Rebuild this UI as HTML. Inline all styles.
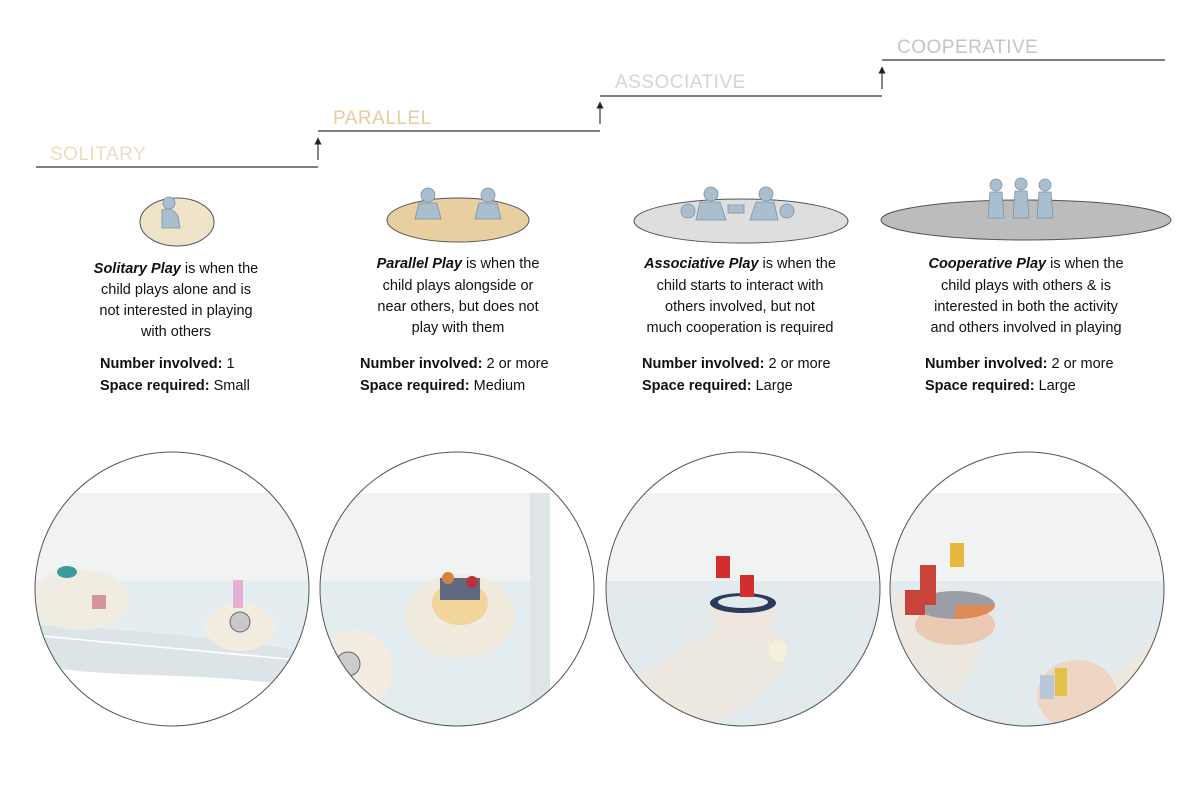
<!DOCTYPE html>
<html><head><meta charset="utf-8"><style>
body{margin:0;background:#fff;width:1200px;height:800px;overflow:hidden;font-family:"Liberation Sans",sans-serif}
svg{position:absolute;left:0;top:0}
</style></head><body>
<svg width="1200" height="800" viewBox="0 0 1200 800">
<defs>
<clipPath id="c1"><circle cx="172" cy="589" r="137"/></clipPath>
<clipPath id="c2"><circle cx="457" cy="589" r="137"/></clipPath>
<clipPath id="c3"><circle cx="743" cy="589" r="137"/></clipPath>
<clipPath id="c4"><circle cx="1027" cy="589" r="137"/></clipPath>
<marker id="ar" markerWidth="6" markerHeight="6" refX="3" refY="3" orient="auto"><path d="M0,0L6,3L0,6z" fill="#222"/></marker>
</defs>
<g stroke="#333" stroke-width="1.2" fill="none">
<line x1="36" y1="167" x2="318" y2="167"/><line x1="318" y1="160" x2="318" y2="141" marker-end="url(#ar)"/>
<line x1="318" y1="131" x2="600" y2="131"/><line x1="600" y1="124" x2="600" y2="105" marker-end="url(#ar)"/>
<line x1="600" y1="96" x2="882" y2="96"/><line x1="882" y1="89" x2="882" y2="70" marker-end="url(#ar)"/>
<line x1="882" y1="60" x2="1165" y2="60"/>
</g>
<g font-size="19" letter-spacing="0.5">
<text x="50" y="160" fill="#eedcbf">SOLITARY</text>
<text x="333" y="124" fill="#e6cc9e">PARALLEL</text>
<text x="615" y="88" fill="#d4d4d4">ASSOCIATIVE</text>
<text x="897" y="53" fill="#c4c4c4">COOPERATIVE</text>
</g>
<g stroke="#555" stroke-width="1">
<ellipse cx="177" cy="222" rx="37" ry="24" fill="#efe3ca"/>
<ellipse cx="458" cy="220" rx="71" ry="22" fill="#e8cf9f"/>
<ellipse cx="741" cy="221" rx="107" ry="22" fill="#dedede"/>
<ellipse cx="1026" cy="220" rx="145" ry="20" fill="#bcbcbc"/>
</g>
<g fill="#a9bfcf" stroke="#7d93a3" stroke-width="0.8">
<circle cx="169" cy="203" r="6"/><path d="M162,210 q10,-4 16,6 l2,12 h-18z"/>
<circle cx="428" cy="195" r="7"/><path d="M419,203 h18 l4,16 h-26z"/><circle cx="488" cy="195" r="7"/><path d="M479,203 h18 l4,16 h-26z"/>
<circle cx="711" cy="194" r="7"/><path d="M700,202 h20 l6,18 h-30z"/><circle cx="688" cy="211" r="7"/><circle cx="766" cy="194" r="7"/><path d="M756,202 h18 l4,18 h-28z"/><circle cx="787" cy="211" r="7"/><rect x="728" y="205" width="16" height="8"/>
<circle cx="996" cy="185" r="6"/><path d="M990,192 h12 l2,26 h-16z"/><circle cx="1021" cy="184" r="6"/><path d="M1015,191 h12 l2,27 h-16z"/><circle cx="1045" cy="185" r="6"/><path d="M1039,192 h12 l2,26 h-16z"/>
</g>
<g font-size="14.5" fill="#111" text-anchor="middle">
<g><text x="176" y="273"><tspan font-style="italic" font-weight="bold">Solitary Play</tspan> is when the</text><text x="176" y="294">child plays alone and is</text><text x="176" y="315">not interested in playing</text><text x="176" y="336">with others</text></g>
<g><text x="458" y="268"><tspan font-style="italic" font-weight="bold">Parallel Play</tspan> is when the</text><text x="458" y="290">child plays alongside or</text><text x="458" y="311">near others, but does not</text><text x="458" y="332">play with them</text></g>
<g><text x="740" y="268"><tspan font-style="italic" font-weight="bold">Associative Play</tspan> is when the</text><text x="740" y="290">child starts to interact with</text><text x="740" y="311">others involved, but not</text><text x="740" y="332">much cooperation is required</text></g>
<g><text x="1026" y="268"><tspan font-style="italic" font-weight="bold">Cooperative Play</tspan> is when the</text><text x="1026" y="290">child plays with others &amp; is</text><text x="1026" y="311">interested in both the activity</text><text x="1026" y="332">and others involved in playing</text></g>
</g>
<g font-size="14.5" fill="#111">
<g><text x="100" y="368"><tspan font-weight="bold">Number involved:</tspan> 1</text><text x="100" y="390"><tspan font-weight="bold">Space required:</tspan> Small</text></g>
<g><text x="360" y="368"><tspan font-weight="bold">Number involved:</tspan> 2 or more</text><text x="360" y="390"><tspan font-weight="bold">Space required:</tspan> Medium</text></g>
<g><text x="642" y="368"><tspan font-weight="bold">Number involved:</tspan> 2 or more</text><text x="642" y="390"><tspan font-weight="bold">Space required:</tspan> Large</text></g>
<g><text x="925" y="368"><tspan font-weight="bold">Number involved:</tspan> 2 or more</text><text x="925" y="390"><tspan font-weight="bold">Space required:</tspan> Large</text></g>
</g>
<!-- circles -->
<g clip-path="url(#c1)">
<rect x="30" y="493" width="290" height="88" fill="#f1f2f2"/>
<path d="M30,581 H320 V655 Q250,640 120,630 Q60,625 30,625z" fill="#e4edf0"/>
<path d="M30,625 Q60,625 120,630 Q250,640 320,655 V690 Q260,678 150,675 Q80,673 30,665z" fill="#dde4e7"/>
<line x1="30" y1="635" x2="320" y2="662" stroke="#fff" stroke-width="1.5"/>
<ellipse cx="240" cy="627" rx="35" ry="24" fill="#f3ede1"/><ellipse cx="80" cy="600" rx="50" ry="30" fill="#f1ece2"/>
<circle cx="240" cy="622" r="10" fill="#c8c8c8" stroke="#666"/><ellipse cx="67" cy="572" rx="10" ry="6" fill="#3b9a9a"/>
<rect x="233" y="580" width="10" height="28" fill="#e7b0d2"/><rect x="92" y="595" width="14" height="14" fill="#d9939a"/>
</g>
<g clip-path="url(#c2)">
<rect x="315" y="493" width="235" height="88" fill="#f1f2f2"/><rect x="530" y="493" width="20" height="250" fill="#dfe4e6"/>
<rect x="315" y="581" width="215" height="160" fill="#e3ecef"/>
<ellipse cx="460" cy="616" rx="55" ry="42" fill="#f1eadf"/><ellipse cx="460" cy="603" rx="28" ry="22" fill="#f2d59a"/>
<ellipse cx="355" cy="670" rx="38" ry="40" fill="#f2ece2"/><circle cx="348" cy="664" r="12" fill="#ccc" stroke="#666"/>
<rect x="440" y="578" width="40" height="22" fill="#5f6a80"/><circle cx="448" cy="578" r="6" fill="#d5833a"/><circle cx="472" cy="582" r="6" fill="#b8323a"/>
</g>
<g clip-path="url(#c3)">
<rect x="600" y="493" width="290" height="88" fill="#f1f2f2"/>
<rect x="600" y="581" width="290" height="160" fill="#e2eaed"/>
<path d="M600,700 Q680,650 710,630 Q760,600 790,650 Q780,690 720,720 L600,740z" fill="#ede8df"/>
<ellipse cx="743" cy="612" rx="35" ry="18" fill="#efe6df"/>
<ellipse cx="743" cy="603" rx="33" ry="10" fill="#2d3b5a"/><ellipse cx="743" cy="602" rx="25" ry="6" fill="#e2eaed"/>
<rect x="716" y="556" width="14" height="22" fill="#d32d2d"/><rect x="740" y="575" width="14" height="22" fill="#d32d2d"/>
<ellipse cx="778" cy="651" rx="9" ry="11" fill="#f6efd9"/>
</g>
<g clip-path="url(#c4)">
<rect x="885" y="493" width="290" height="88" fill="#f1f2f2"/>
<rect x="885" y="581" width="290" height="160" fill="#e2eaed"/>
<path d="M885,600 Q940,580 970,600 Q990,650 960,690 L885,700z" fill="#ede8df"/>
<path d="M1170,620 Q1120,680 1080,690 L1060,740 H1170z" fill="#ede8df"/>
<ellipse cx="955" cy="625" rx="40" ry="20" fill="#ecc9b3"/>
<ellipse cx="955" cy="605" rx="40" ry="14" fill="#9a9ea6"/><path d="M955,605 h40 a40,14 0 0 1 -40,14z" fill="#e08a57"/>
<rect x="920" y="565" width="16" height="40" fill="#c9433a"/><rect x="905" y="590" width="20" height="25" fill="#c9433a"/><rect x="950" y="543" width="14" height="24" fill="#e6b93c"/>
<ellipse cx="1077" cy="695" rx="40" ry="35" fill="#efd5c3"/>
<rect x="1055" y="668" width="12" height="28" fill="#e1c147"/><rect x="1040" y="675" width="14" height="24" fill="#b9c8d6"/>
</g>
<g fill="none" stroke="#555" stroke-width="1">
<circle cx="172" cy="589" r="137"/>
<circle cx="457" cy="589" r="137"/>
<circle cx="743" cy="589" r="137"/>
<circle cx="1027" cy="589" r="137"/>
</g>
</svg>
</body></html>
